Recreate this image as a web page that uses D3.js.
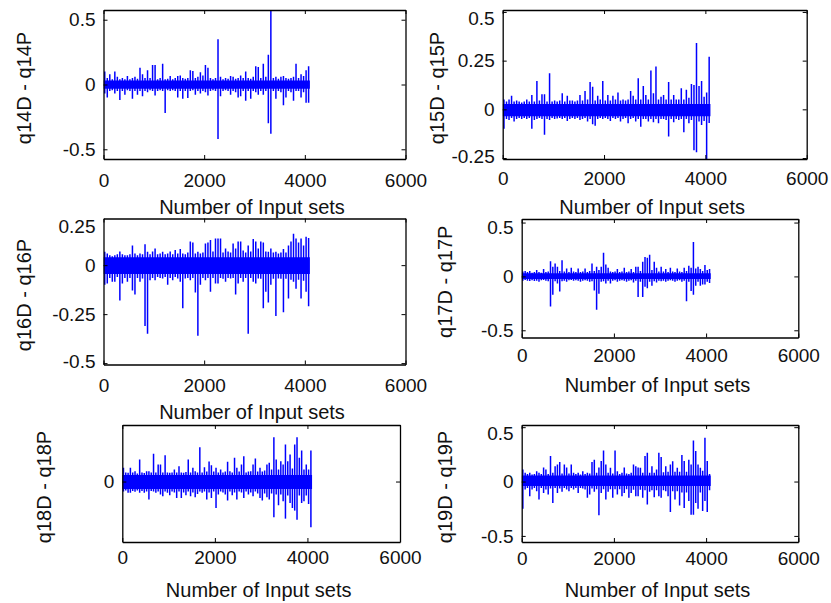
<!DOCTYPE html>
<html>
<head>
<meta charset="utf-8">
<script src="https://cdn.jsdelivr.net/npm/d3@7"></script>
<style>
  body { margin: 0; background: #fff; }
  svg { font-family: "Liberation Sans", Arial, sans-serif; }
</style>
</head>
<body>
<svg id="chart" width="831" height="603"></svg>
<script>
// shared x axis
var xTicks = [0, 2000, 4000, 6000];
var xTitle = "Number of Input sets";
var binSize = 50;   // each hi/lo entry = max / min of 50 input sets

var yTitles = ["q14D - q14P", "q15D - q15P", "q16D - q16P", "q17D - q17P", "q18D - q18P", "q19D - q19P"];

var q14Ticks = [-0.5, 0, 0.5];
var q15Ticks = [-0.25, 0, 0.25, 0.5];
var q16Ticks = [-0.5, -0.25, 0, 0.25];
var q17Ticks = [-0.5, 0, 0.5];
var q18Ticks = [0];
var q19Ticks = [-0.5, 0, 0.5];

// amplitude of the dense noise core [min, max]
var q14Core = [-0.033, 0.03];
var q15Core = [-0.035, 0.027];
var q16Core = [-0.045, 0.04];
var q17Core = [-0.025, 0.03];
var q18Core = [-0.075, 0.065];
var q19Core = [-0.04, 0.055];

var q14Hi = [.10,.05,.08,.04,.10,.06,.04,.05,.04,.065, .04,.05,.06,.045,.13,.08,.05,.11,.05,.15,
  .15,.04,.05,.16,.04,.045,.065,.04,.05,.065, .07,.05,.045,.05,.11,.105,.05,.06,.095,.07,
  .15,.13,.05,.04,.05,.35,.06,.04,.05,.045, .065,.06,.045,.05,.07,.05,.10,.05,.045,.06,
  .14,.135,.05,.16,.06,.23,.62,.05,.06,.045, .06,.065,.05,.045,.05,.06,.16,.05,.08,.065, .11,.14];
var q14Lo = [-.07,-.10,-.05,-.045,-.07,-.05,-.12,-.05,-.08,-.045, -.05,-.11,-.05,-.08,-.05,-.09,-.05,-.06,-.045,-.05,
  -.085,-.05,-.045,-.05,-.22,-.045,-.05,-.045,-.05,-.10, -.05,-.11,-.05,-.105,-.05,-.045,-.08,-.05,-.07,-.05,
  -.06,-.085,-.05,-.045,-.05,-.42,-.09,-.05,-.045,-.05, -.08,-.05,-.06,-.10,-.09,-.05,-.125,-.05,-.11,-.05,
  -.06,-.08,-.05,-.08,-.05,-.30,-.38,-.05,-.11,-.05, -.06,-.16,-.10,-.05,-.06,-.125,-.05,-.05,-.10,-.06, -.14,-.14];

var q15Hi = [.05,.04,.05,.07,.04,.045,.04,.035,.04,.05, .04,.074,.04,.145,.045,.077,.077,.04,.185,.04,
  .045,.04,.045,.082,.04,.07,.045,.045,.04,.045, .074,.045,.094,.05,.14,.116,.045,.07,.05,.145,
  .045,.074,.045,.07,.05,.087,.045,.05,.045,.05, .094,.07,.05,.16,.05,.12,.074,.05,.20,.082,
  .22,.05,.065,.074,.05,.14,.05,.074,.05,.05, .108,.05,.10,.06,.13,.125,.34,.12,.145,.065, .087,.27];
var q15Lo = [-.10,-.05,-.055,-.045,-.063,-.05,-.045,-.05,-.045,-.05, -.045,-.10,-.055,-.05,-.045,-.05,-.13,-.05,-.055,-.045,
  -.05,-.047,-.045,-.05,-.045,-.06,-.05,-.045,-.05,-.045, -.055,-.05,-.045,-.063,-.05,-.077,-.084,-.05,-.045,-.05,
  -.045,-.05,-.06,-.045,-.05,-.045,-.063,-.05,-.045,-.072, -.05,-.045,-.063,-.05,-.089,-.05,-.05,-.063,-.05,-.066,
  -.05,-.072,-.05,-.05,-.055,-.14,-.05,-.066,-.05,-.055, -.05,-.118,-.05,-.072,-.055,-.21,-.22,-.063,-.08,-.06, -.26,-.07];

var q16Hi = [.068,.06,.05,.045,.05,.055,.07,.055,.05,.05, .055,.10,.06,.05,.06,.055,.107,.068,.055,.07,
  .085,.055,.06,.068,.055,.06,.07,.055,.077,.06, .082,.06,.055,.065,.12,.116,.06,.068,.06,.065,
  .11,.116,.128,.07,.136,.136,.136,.065,.085,.07, .065,.11,.085,.12,.12,.075,.065,.10,.07,.133,
  .12,.085,.12,.116,.07,.068,.085,.065,.068,.06, .065,.082,.065,.10,.12,.16,.136,.116,.136,.10, .145,.139];
var q16Lo = [-.10,-.094,-.065,-.085,-.085,-.06,-.18,-.094,-.065,-.085, -.065,-.13,-.15,-.065,-.085,-.068,-.31,-.35,-.077,-.065,
  -.077,-.06,-.065,-.068,-.06,-.10,-.065,-.077,-.06,-.068, -.085,-.22,-.068,-.065,-.077,-.065,-.14,-.36,-.10,-.065,
  -.077,-.065,-.136,-.065,-.094,-.094,-.065,-.07,-.085,-.065, -.068,-.065,-.15,-.094,-.065,-.085,-.065,-.35,-.065,-.085,
  -.094,-.068,-.07,-.22,-.136,-.19,-.10,-.07,-.26,-.068, -.07,-.24,-.07,-.17,-.075,-.085,-.12,-.075,-.17,-.08, -.136,-.21];

var q17Hi = [.045,.05,.04,.05,.035,.04,.059,.04,.035,.068, .04,.045,.14,.09,.12,.09,.05,.15,.045,.074,
  .04,.08,.045,.04,.074,.04,.045,.074,.04,.05, .12,.05,.09,.06,.09,.22,.11,.08,.045,.04,
  .045,.068,.04,.045,.08,.04,.045,.068,.04,.09, .09,.05,.136,.18,.173,.20,.06,.136,.08,.045,
  .09,.045,.068,.04,.08,.045,.04,.074,.045,.04, .08,.05,.099,.08,.32,.074,.09,.068,.05,.105, .06,.07];
var q17Lo = [-.04,-.034,-.04,-.043,-.035,-.043,-.04,-.05,-.035,-.034, -.04,-.045,-.28,-.17,-.045,-.065,-.14,-.045,-.04,-.05,
  -.035,-.034,-.04,-.035,-.04,-.05,-.04,-.035,-.04,-.05, -.045,-.13,-.31,-.16,-.05,-.045,-.065,-.04,-.065,-.04,
  -.035,-.05,-.04,-.035,-.04,-.05,-.04,-.035,-.056,-.04, -.19,-.05,-.19,-.096,-.11,-.05,-.087,-.045,-.056,-.04,
  -.045,-.04,-.05,-.04,-.035,-.04,-.05,-.04,-.035,-.05, -.04,-.23,-.05,-.136,-.17,-.087,-.05,-.087,-.074,-.074, -.05,-.06];

var q18Hi = [.137,.09,.087,.137,.09,.103,.08,.22,.09,.085, .103,.103,.09,.277,.09,.17,.17,.09,.263,.09,
  .087,.09,.12,.09,.153,.09,.087,.095,.22,.09, .137,.103,.09,.343,.09,.143,.10,.20,.163,.10,
  .137,.09,.12,.09,.10,.197,.103,.09,.237,.137, .10,.17,.253,.09,.10,.103,.17,.23,.10,.137,
  .10,.11,.17,.187,.12,.443,.22,.12,.203,.17, .37,.203,.27,.13,.37,.443,.237,.31,.12,.17, .12,.31];
var q18Lo = [-.10,-.09,-.113,-.113,-.095,-.103,-.09,-.113,-.095,-.113, -.10,-.18,-.095,-.10,-.113,-.10,-.13,-.147,-.10,-.113,
  -.137,-.10,-.11,-.163,-.10,-.163,-.11,-.137,-.10,-.147, -.11,-.157,-.123,-.10,-.113,-.10,-.18,-.11,-.163,-.10,
  -.263,-.13,-.10,-.11,-.13,-.19,-.10,-.137,-.11,-.18, -.10,-.11,-.163,-.10,-.13,-.11,-.147,-.10,-.12,-.163,
  -.19,-.12,-.157,-.18,-.12,-.357,-.13,-.237,-.13,-.197, -.37,-.14,-.213,-.263,-.29,-.38,-.14,-.213,-.197,-.14, -.223,-.457];

var q19Hi = [.11,.08,.07,.08,.065,.07,.095,.08,.07,.13, .11,.07,.234,.08,.14,.157,.18,.075,.157,.13,
  .075,.157,.08,.07,.08,.065,.095,.07,.08,.075, .18,.20,.08,.13,.188,.286,.157,.08,.126,.075,
  .286,.095,.07,.08,.13,.075,.07,.08,.157,.14, .13,.126,.08,.234,.265,.08,.14,.08,.11,.265,
  .225,.085,.14,.09,.157,.187,.09,.126,.09,.243, .188,.09,.20,.157,.378,.28,.157,.126,.10,.403, .188,.07];
var q19Lo = [-.25,-.074,-.06,-.135,-.074,-.06,-.09,-.166,-.06,-.105, -.074,-.12,-.065,-.197,-.06,-.105,-.065,-.095,-.06,-.074,
  -.09,-.06,-.074,-.06,-.105,-.06,-.065,-.074,-.15,-.12, -.065,-.095,-.07,-.31,-.105,-.07,-.166,-.095,-.07,-.15,
  -.07,-.12,-.07,-.135,-.105,-.07,-.15,-.105,-.075,-.135, -.135,-.075,-.15,-.08,-.21,-.095,-.08,-.145,-.08,-.135,
  -.15,-.08,-.09,-.135,-.28,-.09,-.166,-.09,-.22,-.10, -.243,-.10,-.18,-.305,-.305,-.197,-.25,-.10,-.27,-.18, -.28,-.08];

var svg = d3.select("#chart");

// layout of the six axes boxes
var panels = [
  { title: yTitles[0], hi: q14Hi, lo: q14Lo, core: q14Core, ticks: q14Ticks, ydom: [-0.575, 0.575], left: 103.5, right: 405.5, top: 10,    bottom: 159,   titleX: 24,  xPad: 21 },
  { title: yTitles[1], hi: q15Hi, lo: q15Lo, core: q15Core, ticks: q15Ticks, ydom: [-0.255, 0.51],  left: 502.7, right: 806.7, top: 10,    bottom: 159,   titleX: 437, xPad: 19 },
  { title: yTitles[2], hi: q16Hi, lo: q16Lo, core: q16Core, ticks: q16Ticks, ydom: [-0.507, 0.238], left: 103.5, right: 405.5, top: 218.5, bottom: 364.5, titleX: 24,  xPad: 21 },
  { title: yTitles[3], hi: q17Hi, lo: q17Lo, core: q17Core, ticks: q17Ticks, ydom: [-0.567, 0.533], left: 521.7, right: 798.3, top: 219,   bottom: 337.5, titleX: 445, xPad: 18 },
  { title: yTitles[4], hi: q18Hi, lo: q18Lo, core: q18Core, ticks: q18Ticks, ydom: [-0.603, 0.564], left: 122.3, right: 400,   top: 425,   bottom: 542,   titleX: 44,  xPad: 15 },
  { title: yTitles[5], hi: q19Hi, lo: q19Lo, core: q19Core, ticks: q19Ticks, ydom: [-0.556, 0.52],  left: 521.7, right: 798.3, top: 425,   bottom: 542,   titleX: 445, xPad: 16 }
];

var font = "Liberation Sans, Arial, sans-serif";

panels.forEach(function(p, k) {
  var x = d3.scaleLinear().domain([0, 6000]).range([p.left, p.right]);
  var y = d3.scaleLinear().domain(p.ydom).range([p.bottom, p.top]);
  var g = svg.append("g");

  g.append("clipPath").attr("id", "clip" + k)
    .append("rect")
      .attr("x", p.left).attr("y", p.top)
      .attr("width", p.right - p.left).attr("height", p.bottom - p.top);

  var plot = g.append("g").attr("clip-path", "url(#clip" + k + ")");

  // solid core of the noise
  var nBins = p.hi.length;
  plot.append("path")
    .datum([0, nBins * binSize])
    .attr("fill", "#0000ff")
    .attr("d", d3.area()
      .x(function(d) { return x(d); })
      .y0(y(p.core[0]))
      .y1(y(p.core[1])));

  // one vertical stroke per bin, from its min to its max
  plot.selectAll("line.bin")
    .data(p.hi)
    .enter()
    .append("line")
      .attr("class", "bin")
      .attr("x1", function(d, i) { return x(i * binSize + 25); })
      .attr("x2", function(d, i) { return x(i * binSize + 25); })
      .attr("y1", function(d) { return y(d); })
      .attr("y2", function(d, i) { return y(p.lo[i]); })
      .attr("stroke", "#0000ff")
      .attr("stroke-width", 1.5);

  var inside = p.ticks.filter(function(t) { return t >= p.ydom[0] && t <= p.ydom[1]; });

  // left axis, labels kept inside the box height
  var ax = g.append("g")
    .attr("transform", "translate(" + p.left + ",0)")
    .call(d3.axisLeft(y).tickValues(p.ticks).tickSizeInner(-4).tickSizeOuter(0).tickPadding(8).tickFormat(String));
  ax.selectAll(".tick").each(function(d) {
    var t = d3.select(this), yy = y(d);
    if (yy < p.top - 0.5 || yy > p.bottom + 0.5) t.select("line").remove();
    var yc = Math.max(p.top + 8, Math.min(p.bottom - 3, yy));
    t.select("text").attr("y", yc - yy);
  });

  var ar = g.append("g")
    .attr("transform", "translate(" + p.right + ",0)")
    .call(d3.axisRight(y).tickValues(inside).tickSizeInner(-4).tickSizeOuter(0).tickFormat(""));

  var at = g.append("g")
    .attr("transform", "translate(0," + p.top + ")")
    .call(d3.axisTop(x).tickValues(xTicks).tickSizeInner(-4).tickSizeOuter(0).tickFormat(""));

  var ab = g.append("g")
    .attr("transform", "translate(0," + p.bottom + ")")
    .call(d3.axisBottom(x).tickValues(xTicks).tickSizeInner(-4).tickSizeOuter(0).tickPadding(p.xPad - 6.7).tickFormat(String));

  [ax, ar, at, ab].forEach(function(a) {
    a.attr("font-family", font).attr("font-size", 19);
    a.select(".domain").attr("stroke", "#000").attr("stroke-width", 1.3);
    a.selectAll(".tick line").attr("stroke", "#000");
    a.selectAll(".tick text").attr("fill", "#111");
  });

  // axis titles
  g.append("text")
    .attr("x", (p.left + p.right) / 2 - 2.5)
    .attr("y", p.bottom + 47.5)
    .attr("text-anchor", "middle")
    .attr("dominant-baseline", "central")
    .attr("font-size", 20)
    .attr("fill", "#111")
    .text(xTitle);

  g.append("text")
    .attr("transform", "translate(" + p.titleX + "," + ((p.top + p.bottom) / 2 + 3.5) + ") rotate(-90)")
    .attr("text-anchor", "middle")
    .attr("dominant-baseline", "central")
    .attr("font-size", 20)
    .attr("fill", "#111")
    .text(p.title);
});
</script>
</body>
</html>
